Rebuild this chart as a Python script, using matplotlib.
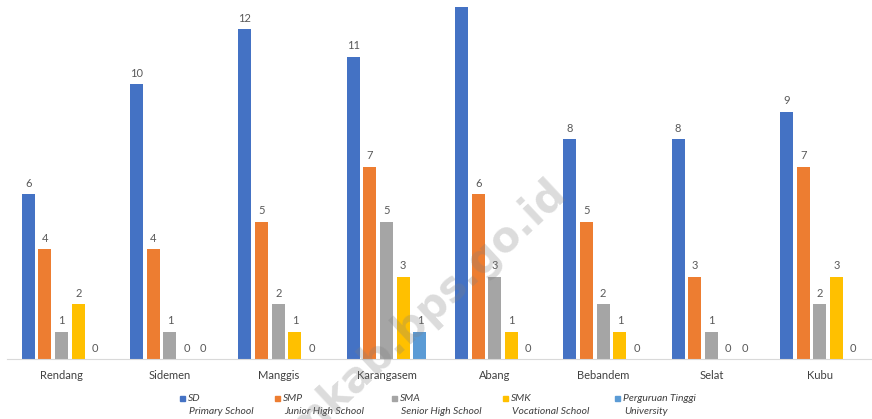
import numpy as np
import matplotlib
matplotlib.use("Agg")
import matplotlib.pyplot as plt

# jumlah sekolah per kecamatan
districts = ["Rendang", "Sidemen", "Manggis", "Karangasem", "Abang", "Bebandem", "Selat", "Kubu"]
sd = [6, 10, 12, 11, 13, 8, 8, 9]
smp = [4, 4, 5, 7, 6, 5, 3, 7]
sma = [1, 1, 2, 5, 3, 2, 1, 2]
smk = [2, 0, 1, 3, 1, 1, 0, 3]
pt = [0, 0, 0, 1, 0, 0, 0, 0]

series_names = ["SD", "SMP", "SMA", "SMK", "Perguruan Tinggi"]
series_en = ["Primary School", "Junior High School", "Senior High School", "Vocational School", "University"]
colors = ["#4472C4", "#ED7D31", "#A5A5A5", "#FFC000", "#5B9BD5"]

plt.rcParams['font.family'] = ['Lato', 'DejaVu Sans']

W, H = 872, 419
fig = plt.figure(figsize=(W / 100, H / 100), dpi=100)
ax = fig.add_axes([7.4 / W, (H - 359) / H, 866.6 / W, (359 - 7.3) / H])

x = np.arange(len(districts))
step = 0.154
bw = 0.12
ymax = 12.79
for i, vals in enumerate([sd, smp, sma, smk, pt]):
    pos = x + (i - 2) * step
    ax.bar(pos, vals, width=bw, color=colors[i], zorder=2)
    for p, v in zip(pos, vals):
        if v <= ymax:
            ax.text(p, v + 0.2, str(v), ha='center', va='bottom', fontsize=8, color='#595959')

ax.set_xlim(-0.5, 7.5)
ax.set_ylim(0, ymax)
ax.set_yticks([])
ax.set_xticks(x)
ax.set_xticklabels(districts, fontsize=8, color='#404040')
ax.tick_params(axis='x', length=0, pad=8)
for s in ['top', 'right', 'left']:
    ax.spines[s].set_visible(False)
ax.spines['bottom'].set_color('#D9D9D9')
ax.spines['bottom'].set_linewidth(0.8)

# legenda manual (dua baris)
leg_x = [180, 275, 392, 503, 615]
for lx, c, n, e in zip(leg_x, colors, series_names, series_en):
    fig.patches.append(plt.Rectangle((lx / W, (H - 400.5) / H), 5 / W, 5 / H,
                                     color=c, transform=fig.transFigure, figure=fig))
    fig.text((lx + 8) / W, (H - 398) / H, n, fontsize=7.5, style='italic',
             color='#404040', va='center', ha='left')
    fig.text((lx + 9) / W, (H - 411) / H, e, fontsize=7.5, style='italic',
             color='#404040', va='center', ha='left')

# watermark
fig.text(568 / W, (H - 195) / H, "karangasemkab.bps.go.id", fontsize=30, fontweight='bold',
         family='DejaVu Sans', color='#808080', alpha=0.28, rotation=43,
         ha='right', va='baseline', rotation_mode='anchor', zorder=10)

fig.savefig("out.png", dpi=100)
